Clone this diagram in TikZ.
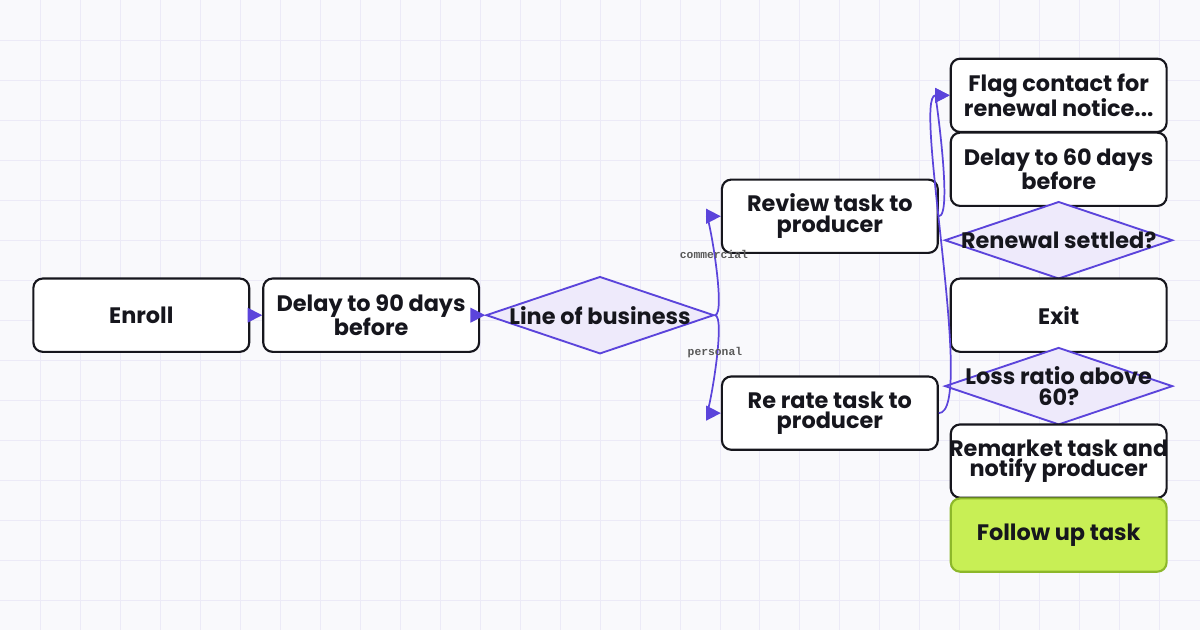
\documentclass[tikz,border=0pt]{standalone}
\usepackage{fontspec}
\setmainfont{Poppins}
\setmonofont{Liberation Mono}
\usepackage{xcolor}
\usetikzlibrary{arrows.meta,positioning,shapes.geometric}
\definecolor{bgpaper}{HTML}{F9F9FC}
\definecolor{gridline}{HTML}{ECEAF7}
\definecolor{edgeblue}{HTML}{5B44DB}
\definecolor{diafill}{HTML}{EEEAFB}
\definecolor{inkdark}{HTML}{16161D}
\definecolor{limefill}{HTML}{C8EF55}
\definecolor{limeedge}{HTML}{8DB82A}

\tikzset{
  taskbox/.style={draw=inkdark, line width=1.6pt, rounded corners=7pt, fill=white,
    minimum width=162pt, minimum height=55pt, align=center, inner sep=0pt,
    font=\bfseries\fontsize{16.8}{15.6}\selectfont, text=inkdark},
  choice/.style={shape=diamond, draw=edgeblue, line width=1.4pt, fill=diafill,
    minimum width=171pt, minimum height=58pt, inner sep=0pt,
    label={[align=center, font=\bfseries\fontsize{16.8}{15.6}\selectfont, text=inkdark]center:#1}},
  goal/.style={taskbox, fill=limefill, draw=limeedge},
  flow/.style={draw=edgeblue, line width=1.3pt, -{Triangle[length=11pt,width=11pt]}},
  tag/.style={font=\ttfamily\bfseries\fontsize{8.5}{9}\selectfont, text=gray!70!black}
}

\begin{document}
\begin{tikzpicture}[x=0.75pt, y=-0.75pt]
% canvas and grid
\fill[bgpaper] (0,0) rectangle (1200,630);
\foreach \gx in {40,80,...,1160} \draw[gridline, line width=0.6pt] (\gx,0) -- (\gx,630);
\foreach \gy in {40,80,...,600} \draw[gridline, line width=0.6pt] (0,\gy) -- (1200,\gy);
\useasboundingbox (0,0) rectangle (1200,630);

% main line
\node[taskbox] (enroll) at (141,315) {Enroll};
\node[taskbox] (wait90) at (371,315) {Delay to 90 days\\before};
\node[choice={Line of business}] (lob) at (600,315) {};
\node[taskbox] (review) at (830,216) {Review task to\\producer};
\node[taskbox] (rerate) at (830,413) {Re rate task to\\producer};

% right column
\node[taskbox] (flag) at (1059,95) {Flag contact for\\renewal notice...};
\node[taskbox] (wait60) at (1059,169) {Delay to 60 days\\before};
\node[choice={Renewal settled?}] (settled) at (1059,240) {};
\node[taskbox] (exit) at (1059,315) {Exit};
\node[choice={Loss ratio above\\60?}] (loss) at (1059,386) {};
\node[taskbox, inner xsep=-2pt] (remarket) at (1059,461) {Remarket task and\\notify producer};
\node[goal] (follow) at (1059,535) {Follow up task};

% connectors
\draw[flow] (enroll) -- (wait90);
\draw[flow] (wait90) -- (lob);
\draw[flow] (lob.east) to[out=0,in=180,looseness=0.3] (review.west);
\draw[flow] (lob.east) to[out=0,in=180,looseness=0.3] (rerate.west);
\draw[flow] (review.east) to[out=0,in=180,looseness=0.3] (flag.west);
\draw[flow] (rerate.east) to[out=0,in=180,looseness=0.3] (flag.west);

\node[tag] (tagcom) at (714,254) {commercial};
\node[tag] (tagper) at (715,352) {personal};
\end{tikzpicture}
\end{document}
